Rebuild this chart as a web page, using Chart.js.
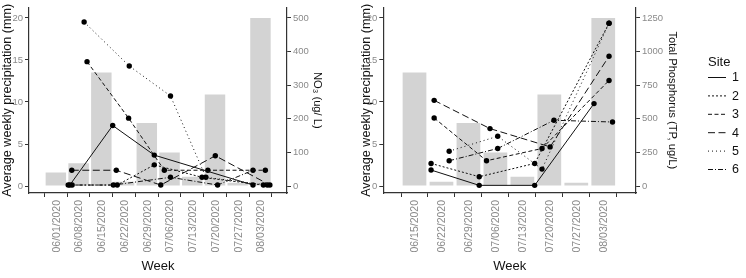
<!DOCTYPE html>
<html><head><meta charset="utf-8">
<script src="https://cdn.jsdelivr.net/npm/chart.js@4/dist/chart.umd.min.js"></script>
<style>
html,body{margin:0;padding:0;background:#fff;}
#wrap{position:relative;width:746px;height:278px;overflow:hidden;}
canvas{position:absolute;top:0;}
</style></head><body>
<div id="wrap">
<canvas id="c1" width="355" height="278" style="left:0;width:355px;height:278px"></canvas>
<canvas id="c2" width="391" height="278" style="left:355px;width:391px;height:278px"></canvas>
</div>
<script>
// ---------------- DATA ----------------
const weekLabels = ['06/01/2020','06/08/2020','06/15/2020','06/22/2020','06/29/2020','07/06/2020','07/13/2020','07/20/2020','07/27/2020','08/03/2020'];
const weekDays = [0,7,14,21,28,35,42,49,56,63];               // days after 06/01/2020
const precipitation = [1.6,2.7,13.5,0.5,7.5,4.0,1.1,10.9,0.4,20.0]; // mm
const siteNames = ['1','2','3','4','5','6'];
const precipTicks = [0,5,10,15,20];
const no3Ticks = [0,100,200,300,400,500];
const tpTicks = [0,250,500,750,1000,1250];

// NO3 (ug/L): sample day (days after 06/01/2020) and value for each site
const no3Days = [
  [4.3,17.5,30.3,60.7],
  [5.0,18.9,30.3,45.0,63.9],
  [9.6,22.4,33.4,46.8,64.5],
  [4.9,18.6,32.3,49.1,65.9],
  [8.7,22.6,35.3,46.2,65.1],
  [3.8,17.7,35.3,49.8,60.7]
];
const no3Values = [
  [3,180,92,3],
  [3,3,63,26,3],
  [370,202,47,47,47],
  [47,47,3,90,3],
  [488,357,268,26,3],
  [3,3,26,3,47]
];

// Total phosphorus (ug/L): sample day and value for each site
const tpDays = [
  [18.3,30.8,45.2,60.6],
  [18.3,30.8,45.2,64.5],
  [19.1,32.7,47.1,64.5],
  [19.1,33.6,49.2,64.5],
  [23.0,35.6,47.1,64.5],
  [23.0,35.6,50.2,65.4]
];
const tpValues = [
  [119,5,5,613],
  [168,69,168,1210],
  [506,188,279,785],
  [637,427,291,965],
  [259,370,126,1210],
  [188,279,489,476]
];

// ---------------- STYLE ----------------
const FONT = '"Liberation Sans", Arial, sans-serif';
const siteDash = [[],[2,2],[4,2.5],[7,3.5],[1,3],[5,2,1,2]];
const axisColor = '#333333';
const tickColor = '#8a8a8a';

const siteLegend = {
  id: 'siteLegend',
  afterDraw(chart, args, o) {
    if (!o || !o.show) return;
    const ctx = chart.ctx;
    ctx.save();
    ctx.fillStyle = '#111';
    ctx.textBaseline = 'middle';
    ctx.textAlign = 'left';
    ctx.font = '13px ' + FONT;
    ctx.fillText(o.title, o.x, o.y);
    ctx.font = '12.5px ' + FONT;
    chart.data.datasets.filter(d => d.type === 'line').forEach((d, i) => {
      const y = o.y + o.first + i * o.step;
      ctx.strokeStyle = '#111';
      ctx.lineWidth = 1;
      ctx.setLineDash(d.borderDash || []);
      ctx.beginPath(); ctx.moveTo(o.x, y); ctx.lineTo(o.x + o.len, y); ctx.stroke();
      ctx.setLineDash([]);
      ctx.fillText(d.label, o.x + o.len + 6, y + 0.5);
    });
    ctx.restore();
  }
};

function makePanel(canvasId, p) {
  const datasets = [{
    type: 'bar', label: 'Precipitation', order: 10, yAxisID: 'y',
    data: p.weeks.map((d, i) => ({x: d, y: p.precip[i]})),
    backgroundColor: '#d3d3d3', borderWidth: 0,
    categoryPercentage: 1, barPercentage: p.barPct
  }];
  siteNames.forEach((s, i) => {
    datasets.push({
      type: 'line', label: s, order: 1, yAxisID: 'y2',
      data: p.days[i].map((d, j) => ({x: d, y: p.vals[i][j]})),
      borderColor: '#111', borderWidth: 1, borderDash: siteDash[i],
      pointRadius: 2.7, pointBackgroundColor: '#000', pointBorderWidth: 0,
      tension: 0, fill: false
    });
  });
  const tickFont = {family: FONT, size: 9.5};
  const gridOpts = {display: true, drawOnChartArea: false, drawTicks: true, tickLength: 4, color: axisColor, lineWidth: 1};
  const borderOpts = {display: true, color: axisColor, width: 1.2};
  return new Chart(document.getElementById(canvasId), {
    data: {datasets},
    plugins: [siteLegend],
    options: {
      responsive: false, animation: false, devicePixelRatio: 1,
      layout: {padding: {top: 7, left: 0, right: 0, bottom: 0}},
      plugins: {legend: {display: false}, tooltip: {enabled: false}, siteLegend: p.legend},
      scales: {
        x: {
          type: 'linear', position: 'bottom', min: p.xMin, max: p.xMax,
          afterBuildTicks: s => { s.ticks = p.weeks.map(v => ({value: v})); },
          afterFit: s => { s.height = 85; },
          ticks: {autoSkip: false, minRotation: 90, maxRotation: 90, padding: 3, labelOffset: p.labelOffset,
                  color: tickColor, font: {family: FONT, size: 10.5},
                  callback: (v, i) => p.labels[i]},
          grid: gridOpts, border: borderOpts,
          title: {display: true, text: 'Week', color: '#111', font: {family: FONT, size: 13}, padding: {top: 0, bottom: 4}}
        },
        y: {
          type: 'linear', position: 'left', min: -0.83, max: 21.22,
          afterBuildTicks: s => { s.ticks = precipTicks.map(v => ({value: v})); },
          afterFit: s => { s.width = p.leftW; },
          ticks: {padding: 2, color: tickColor, font: tickFont, callback: v => String(v)},
          grid: gridOpts, border: borderOpts,
          title: {display: true, text: 'Average weekly precipitation (mm)', color: '#111',
                  font: {family: FONT, size: 12.6}, padding: {top: p.leftTitlePad, bottom: 0}}
        },
        y2: {
          type: 'linear', position: 'right', min: p.y2Min, max: p.y2Max,
          afterBuildTicks: s => { s.ticks = p.y2Ticks.map(v => ({value: v})); },
          afterFit: s => { s.width = p.rightW; },
          ticks: {padding: 2, color: tickColor, font: tickFont, callback: v => String(v)},
          grid: gridOpts, border: borderOpts,
          title: {display: true, text: p.y2Title, color: '#111',
                  font: {family: FONT, size: 11.2}, padding: {top: p.rightTitlePad, bottom: 0}}
        }
      }
    }
  });
}

makePanel('c1', {
  weeks: weekDays, labels: weekLabels, precip: precipitation,
  days: no3Days, vals: no3Values, barPct: 0.9,
  xMin: -4.3, xMax: 67.2, labelOffset: 1,
  y2Min: -20.7, y2Max: 530.5, y2Ticks: no3Ticks, y2Title: 'NO\u2083 (ug/ L)',
  leftW: 29, rightW: 68, leftTitlePad: 0, rightTitlePad: 31,
  legend: {show: false}
});

makePanel('c2', {
  weeks: weekDays.slice(2), labels: weekLabels.slice(2), precip: precipitation.slice(2),
  days: tpDays, vals: tpValues, barPct: 0.88,
  xMin: 10.0, xMax: 67.4, labelOffset: 1,
  y2Min: -51.9, y2Max: 1326, y2Ticks: tpTicks, y2Title: 'Total Phosphorus (TP, ug/L)',
  leftW: 28.3, rightW: 110, leftTitlePad: 4, rightTitlePad: 67,
  legend: {show: true, title: 'Site', x: 353, y: 62, first: 15.5, step: 18.4, len: 18}
});
</script>
</body></html>
